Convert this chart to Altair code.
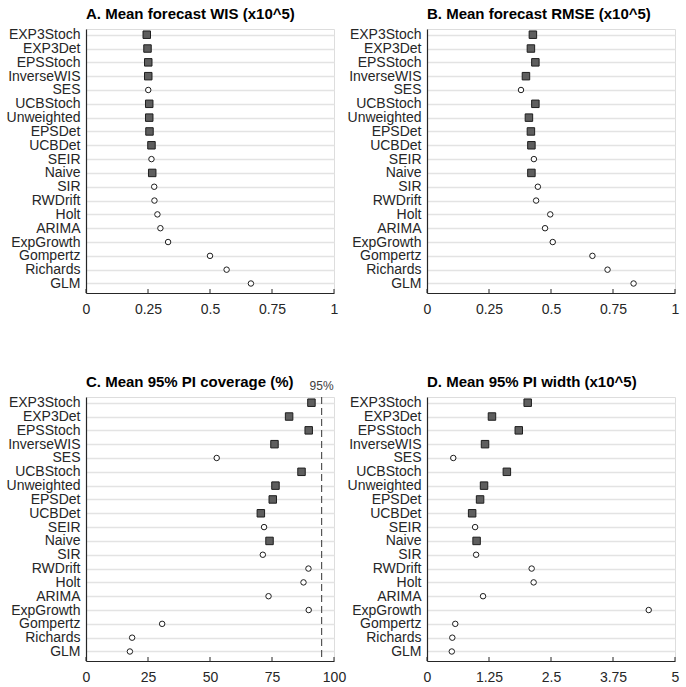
import altair as alt
import pandas as pd

models = ["EXP3Stoch", "EXP3Det", "EPSStoch", "InverseWIS", "SES", "UCBStoch",
          "Unweighted", "EPSDet", "UCBDet", "SEIR", "Naive", "SIR", "RWDrift",
          "Holt", "ARIMA", "ExpGrowth", "Gompertz", "Richards", "GLM"]
kinds = ["Ensemble", "Ensemble", "Ensemble", "Ensemble", "Individual", "Ensemble",
         "Ensemble", "Ensemble", "Ensemble", "Individual", "Ensemble", "Individual",
         "Individual", "Individual", "Individual", "Individual", "Individual",
         "Individual", "Individual"]

wis = [0.245, 0.248, 0.251, 0.251, 0.251, 0.255, 0.255, 0.256, 0.264, 0.264,
       0.267, 0.275, 0.276, 0.288, 0.300, 0.331, 0.500, 0.567, 0.665]
rmse = [0.427, 0.419, 0.437, 0.399, 0.379, 0.437, 0.411, 0.419, 0.421, 0.431,
        0.421, 0.447, 0.440, 0.497, 0.476, 0.507, 0.667, 0.728, 0.833]
coverage = [90.9, 81.9, 89.8, 76.0, 52.7, 86.9, 76.4, 75.3, 70.5, 71.8,
            74.0, 71.3, 89.7, 87.7, 73.6, 89.8, 30.7, 18.6, 17.7]
pi_width = [2.03, 1.31, 1.85, 1.17, 0.53, 1.61, 1.15, 1.07, 0.91, 0.97,
            1.00, 0.99, 2.11, 2.15, 1.13, 4.47, 0.57, 0.51, 0.50]

titles = ["A. Mean forecast WIS (x10^5)", "B. Mean forecast RMSE (x10^5)",
          "C. Mean 95% PI coverage (%)", "D. Mean 95% PI width (x10^5)"]
ticks_ab = [0, 0.25, 0.5, 0.75, 1]
ticks_c = [0, 25, 50, 75, 100]
ticks_d = [0, 1.25, 2.5, 3.75, 5]
target_line = [95]
target_label = ["95%"]

W, H = 248, 264
FONT = "Liberation Sans"


def panel(values, title, ticks, extra=None, title_offset=6):
    df = pd.DataFrame({"model": models, "kind": kinds, "value": values})
    xs = alt.Scale(domain=[ticks[0], ticks[-1]], nice=False, zero=False)
    xax = alt.Axis(title=None, values=ticks, grid=False, ticks=False,
                   labelPadding=9, labelExpr="'' + datum.value", labelFlush=False)
    y = alt.Y("model:N", sort=models,
              scale=alt.Scale(type="point", padding=0.55, align=0.375),
              axis=alt.Axis(title=None, grid=True, ticks=False, labelPadding=6,
                            domain=True))
    pts = alt.Chart(df).mark_point(filled=True, stroke="#1e1e1e", strokeWidth=1,
                                   opacity=1).encode(
        x=alt.X("value:Q", scale=xs, axis=xax),
        y=y,
        shape=alt.Shape("kind:N", scale=alt.Scale(domain=["Ensemble", "Individual"],
                                                  range=["square", "circle"]), legend=None),
        fill=alt.Fill("kind:N", scale=alt.Scale(domain=["Ensemble", "Individual"],
                                                range=["#5e5e5e", "#ffffff"]), legend=None),
        size=alt.Size("kind:N", scale=alt.Scale(domain=["Ensemble", "Individual"],
                                                range=[56, 30]), legend=None),
    )
    tdf = pd.DataFrame({"value": ticks})
    tk = alt.Chart(tdf).mark_rule(color="#262626", strokeWidth=1).encode(
        x=alt.X("value:Q", scale=xs, axis=xax),
        y=alt.value(H), y2=alt.value(H - 4),
    )
    layers = [tk]
    if extra is not None:
        layers += extra(xs, xax)
    layers.append(pts)
    return alt.layer(*layers).properties(
        width=W, height=H,
        title=alt.TitleParams(title, offset=title_offset, frame="group", anchor="start"))


def target_layers(xs, xax):
    ldf = pd.DataFrame({"value": target_line, "label": target_label})
    rule = alt.Chart(ldf).mark_rule(color="#555555", strokeDash=[7, 4],
                                    strokeWidth=1.2).encode(
        x=alt.X("value:Q", scale=xs, axis=xax))
    txt = alt.Chart(ldf).mark_text(fontSize=12, font=FONT, color="#404040",
                                   baseline="middle", align="center").encode(
        x=alt.X("value:Q", scale=xs, axis=xax),
        y=alt.value(-11),
        text="label:N")
    return [rule, txt]


pa = panel(wis, titles[0], ticks_ab)
pb = panel(rmse, titles[1], ticks_ab)
pc = panel(coverage, titles[2], ticks_c, extra=target_layers, title_offset=-10)
pd_ = panel(pi_width, titles[3], ticks_d)

chart = alt.concat(pa, pb, pc, pd_, columns=2,
                   spacing={"row": 104, "column": 93},
                   bounds="flush").configure_view(stroke=None).configure(
    font=FONT, padding={"left": 5, "top": 6, "right": 5, "bottom": 5}
).configure_axis(
    labelFont=FONT, labelFontSize=14, labelColor="#262626",
    domainColor="#262626", domainWidth=1.2,
    gridColor="#e3e3e3", gridWidth=1.5,
).configure_title(
    font=FONT, fontSize=15, fontWeight="bold", anchor="start", color="#000000",
)

chart.save("out.html", embed_options={"renderer": "svg", "actions": False})
